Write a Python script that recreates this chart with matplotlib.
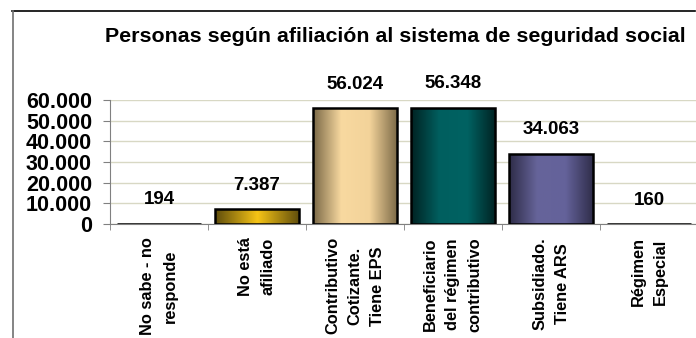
import numpy as np
import matplotlib.pyplot as plt
from matplotlib.colors import LinearSegmentedColormap
from matplotlib.lines import Line2D

plt.rcParams['font.family'] = ['Liberation Sans', 'DejaVu Sans']
plt.rcParams['font.weight'] = 'bold'

categorias = ["No sabe - no\nresponde", "No está\nafiliado",
              "Contributivo\nCotizante.\nTiene EPS",
              "Beneficiario\ndel régimen\ncontributivo",
              "Subsidiado.\nTiene ARS", "Régimen\nEspecial"]
personas = [194, 7387, 56024, 56348, 34063, 160]
etiquetas = ["194", "7.387", "56.024", "56.348", "34.063", "160"]

# degradados horizontales de cada barra (borde, centro, borde)
degradados = [
    ["#1a1a3a", "#4a4a8a", "#1a1a3a"],
    ["#5e4c0c", "#f6c416", "#5e4c0c"],
    ["#7a6846", "#f8d9a0", "#f3d39a", "#7a6846"],
    ["#002222", "#005f5f", "#006262", "#002222"],
    ["#2e2c48", "#66649a", "#64629a", "#2e2c48"],
    ["#1a1a3a", "#4a4a8a", "#1a1a3a"],
]

fig = plt.figure(figsize=(6.96, 3.38), dpi=100)
ax = fig.add_axes([110 / 696, 114 / 338, 588 / 696, 124 / 338])

x = np.arange(len(categorias))
barras = ax.bar(x, personas, width=0.86, color="none", edgecolor="black",
                linewidth=1.8, zorder=3)

grad = np.linspace(0, 1, 256).reshape(1, -1)
for b, cols in zip(barras, degradados):
    cmap = LinearSegmentedColormap.from_list("g", cols)
    x0, y0 = b.get_x(), b.get_y()
    im = ax.imshow(grad, cmap=cmap, aspect="auto", zorder=2,
                   extent=[x0, x0 + b.get_width(), y0, y0 + b.get_height()])
    im.set_clip_path(b)

ax.set_xlim(-0.5, len(categorias) - 0.5)
ax.set_ylim(0, 60000)

for xi, v, t in zip(x, personas, etiquetas):
    ax.annotate(t, (xi, v), xytext=(0, 17), textcoords="offset points",
                ha="center", va="center", fontsize=13.5, fontweight="bold")

ax.set_yticks(np.arange(0, 60001, 10000))
ax.set_yticklabels(["0", "10.000", "20.000", "30.000", "40.000", "50.000", "60.000"],
                   fontsize=15.5, fontweight="bold")
ax.yaxis.grid(True, color="#d8d8c4", linewidth=1)
ax.set_axisbelow(True)

ax.set_xticks(x)
ax.set_xticklabels([])
ax.set_xticks(np.arange(-0.5, len(categorias), 1), minor=True)
ax.tick_params(axis="x", which="major", length=0)
ax.tick_params(axis="x", which="minor", length=4, color="#808080", direction="out")
ax.tick_params(axis="y", length=5, color="#808080", pad=8)

for xi, c in zip(x, categorias):
    ax.annotate(c, (xi, 0), xytext=(0, -9.5), textcoords="offset points",
                rotation=90, ha="center", va="top", multialignment="center",
                fontsize=11.8, fontweight="bold", linespacing=1.6)

for s in ["top", "right"]:
    ax.spines[s].set_visible(False)
ax.spines["left"].set_color("#808080")
ax.spines["bottom"].set_color("#808080")

fig.text(395 / 696, 1 - 37 / 338, "Personas según afiliación al sistema de seguridad social",
         ha="center", va="center", fontsize=15.4, fontweight="bold")

# marco del gráfico
fig.add_artist(Line2D([12 / 696, 695 / 696], [1 - 11 / 338] * 2, color="black", lw=1.2))
fig.add_artist(Line2D([13 / 696] * 2, [0, 1 - 11 / 338], color="#707070", lw=1.2))

fig.savefig("out.png", dpi=100)
